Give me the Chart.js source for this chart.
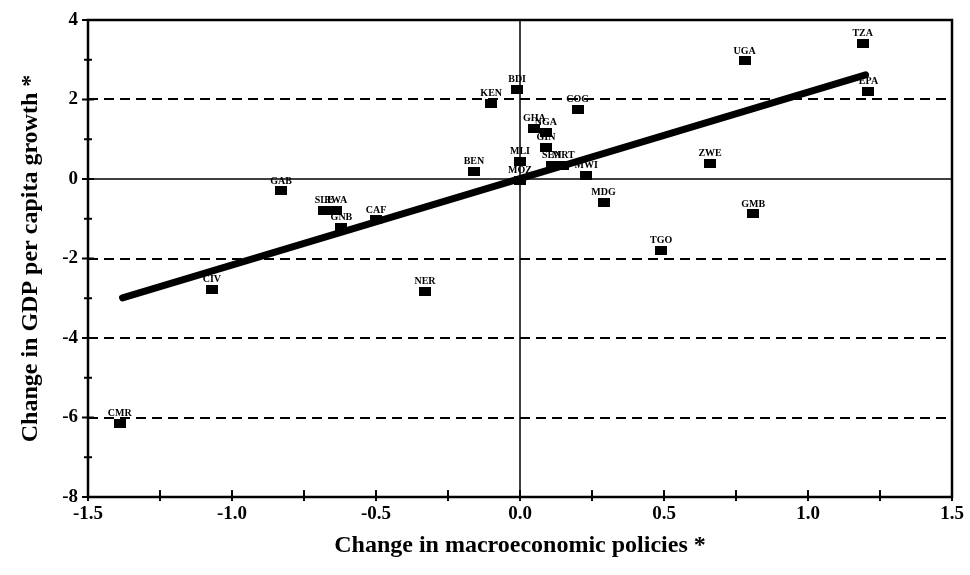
<!DOCTYPE html>
<html>
<head>
<meta charset="utf-8">
<script src="https://cdn.jsdelivr.net/npm/chart.js@4.4.0/dist/chart.umd.min.js"></script>
<style>
  body { margin: 0; background: #fff; }
  #wrap { width: 970px; height: 575px; }
</style>
</head>
<body>
<div id="wrap"><canvas id="scatter" width="970" height="575"></canvas></div>
<script>
// country codes and their values
const countries = ['TZA', 'UGA', 'EPA', 'BDI', 'KEN', 'COG', 'GHA', 'NGA', 'GIN', 'MLI', 'SEN', 'MRT',
                   'BEN', 'MOZ', 'MWI', 'MDG', 'ZWE', 'GMB', 'TGO', 'GAB', 'SLE', 'RWA', 'GNB', 'CAF',
                   'CIV', 'NER', 'CMR'];
const policyChange = [1.19, 0.78, 1.21, -0.01, -0.10, 0.20, 0.05, 0.09, 0.09, 0.00, 0.11, 0.15,
                      -0.16, 0.00, 0.23, 0.29, 0.66, 0.81, 0.49, -0.83, -0.68, -0.64, -0.62, -0.50,
                      -1.07, -0.33, -1.39];
const growthChange = [3.42, 2.97, 2.21, 2.26, 1.91, 1.76, 1.26, 1.18, 0.80, 0.45, 0.35, 0.33,
                      0.20, -0.03, 0.10, -0.58, 0.40, -0.88, -1.79, -0.30, -0.78, -0.80, -1.21, -1.03,
                      -2.79, -2.84, -6.16];
// fitted line end points
const fitX = [-1.38, 1.20];
const fitY = [-2.99, 2.62];
// tick values
const xTicks = [-1.5, -1.0, -0.5, 0.0, 0.5, 1.0, 1.5];
const yTicks = [-8, -6, -4, -2, 0, 2, 4];
const dashedY = [2, -2, -4, -6];

const points = countries.map((c, i) => ({ x: policyChange[i], y: growthChange[i] }));
const fitLine = fitX.map((x, i) => ({ x: x, y: fitY[i] }));

// black box marker
const box = document.createElement('canvas');
box.width = 12; box.height = 9;
const bctx = box.getContext('2d');
bctx.fillStyle = '#000';
bctx.fillRect(0, 0, 12, 9);

const frame = {
  id: 'frame',
  beforeDatasetsDraw(chart) {
    const ctx = chart.ctx;
    const a = chart.chartArea;
    const xs = chart.scales.x, ys = chart.scales.y;
    ctx.save();
    ctx.strokeStyle = '#000';

    // dashed reference lines
    ctx.lineWidth = 2;
    ctx.setLineDash([10, 6]);
    dashedY.forEach(v => {
      const y = Math.round(ys.getPixelForValue(v));
      ctx.beginPath(); ctx.moveTo(a.left, y); ctx.lineTo(a.right, y); ctx.stroke();
    });
    ctx.setLineDash([]);

    // zero lines
    ctx.lineWidth = 1.5;
    const x0 = xs.getPixelForValue(0), y0 = ys.getPixelForValue(0);
    ctx.beginPath(); ctx.moveTo(a.left, y0); ctx.lineTo(a.right, y0); ctx.stroke();
    ctx.beginPath(); ctx.moveTo(x0, a.top); ctx.lineTo(x0, a.bottom); ctx.stroke();

    // box
    ctx.lineWidth = 2.5;
    ctx.strokeRect(a.left, a.top, a.right - a.left, a.bottom - a.top);

    // tick marks
    ctx.lineWidth = 2;
    for (let v = -8; v <= 4; v += 1) {
      const y = ys.getPixelForValue(v);
      const len = v % 2 === 0 ? 6 : 4;
      ctx.beginPath(); ctx.moveTo(a.left - len, y); ctx.lineTo(a.left + len, y); ctx.stroke();
    }
    for (let v = -1.5; v <= 1.5001; v += 0.25) {
      const x = xs.getPixelForValue(v);
      ctx.beginPath(); ctx.moveTo(x, a.bottom + 4); ctx.lineTo(x, a.bottom - 7); ctx.stroke();
    }

    // country labels
    const meta = chart.getDatasetMeta(1);
    ctx.fillStyle = '#000';
    ctx.font = 'bold 10px "Liberation Serif"';
    ctx.textAlign = 'center';
    ctx.textBaseline = 'bottom';
    meta.data.forEach((p, i) => {
      ctx.fillText(countries[i], p.x, p.y - 5);
    });
    ctx.restore();
  }
};

const chart = new Chart(document.getElementById('scatter').getContext('2d'), {
  type: 'scatter',
  data: {
    datasets: [{
      type: 'line',
      data: fitLine,
      borderColor: '#000',
      borderWidth: 7,
      borderCapStyle: 'round',
      pointRadius: 0,
      fill: false
    }, {
      data: points,
      pointStyle: box,
      pointRadius: 6,
      backgroundColor: '#000',
      borderColor: '#000'
    }]
  },
  plugins: [frame],
  options: {
    responsive: false,
    animation: false,
    layout: { padding: { top: 20, right: 18, left: 0, bottom: 0 } },
    plugins: { legend: { display: false }, tooltip: { enabled: false } },
    scales: {
      x: {
        type: 'linear',
        min: -1.5, max: 1.5,
        grid: { display: false, drawTicks: false },
        border: { display: false },
        afterFit: s => { s.height = 78; s.paddingLeft = 0; s.paddingRight = 0; },
        afterBuildTicks: s => { s.ticks = xTicks.map(v => ({ value: v })); },
        ticks: {
          padding: 6,
          color: '#000',
          font: { family: 'Liberation Serif', size: 19, weight: 'bold' },
          callback: v => v.toFixed(1)
        },
        title: {
          display: true,
          text: 'Change in macroeconomic policies *',
          color: '#000',
          font: { family: 'Liberation Serif', size: 24, weight: 'bold' },
          padding: { top: 0, bottom: 15 }
        }
      },
      y: {
        type: 'linear',
        min: -8, max: 4,
        grid: { display: false, drawTicks: false },
        border: { display: false },
        afterFit: s => { s.width = 88; s.paddingTop = 0; s.paddingBottom = 0; },
        afterBuildTicks: s => { s.ticks = yTicks.map(v => ({ value: v })); },
        ticks: {
          padding: 10,
          color: '#000',
          font: { family: 'Liberation Serif', size: 19, weight: 'bold' }
        },
        title: {
          display: true,
          text: 'Change in GDP per capita growth *',
          color: '#000',
          font: { family: 'Liberation Serif', size: 24, weight: 'bold' },
          padding: { top: 16, bottom: 0 }
        }
      }
    }
  }
});
</script>
</body>
</html>
